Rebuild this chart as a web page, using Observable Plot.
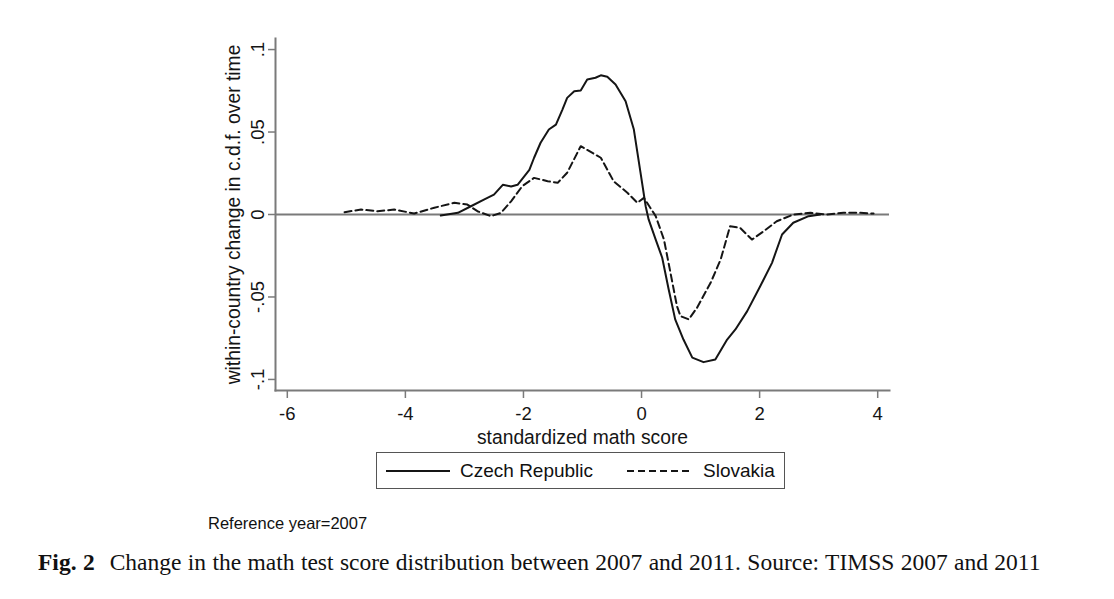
<!DOCTYPE html>
<html>
<head>
<meta charset="utf-8">
<script src="https://cdn.jsdelivr.net/npm/d3@7"></script>
<script src="https://cdn.jsdelivr.net/npm/@observablehq/plot@0.6"></script>
<style>
  html, body { margin: 0; padding: 0; background: #fff; }
  #wrap { position: relative; width: 1114px; height: 599px; overflow: hidden; font-family: "Liberation Sans", Arial, sans-serif; }
  #chart { position: absolute; left: 0; top: 0; }
  #legend { position: absolute; left: 376px; top: 452px; width: 409px; height: 37px; border: 1.5px solid #555; box-sizing: border-box; }
  #legend .item { position: absolute; top: 0; height: 100%; display: flex; align-items: center; font-size: 19px; color: #111; }
  #note { position: absolute; left: 208px; top: 512px; font-size: 16.5px; line-height: 22px; color: #111; }
  #caption { position: absolute; left: 38px; top: 547px; font-family: "Liberation Serif", "Times New Roman", serif; font-size: 23.5px; line-height: 30px; color: #111; white-space: nowrap; word-spacing: 0.5px; }
  #caption b { margin-right: 15px; }
</style>
</head>
<body>
<div id="wrap">
  <div id="chart"></div>
  <div id="legend"></div>
  <div id="note"></div>
  <div id="caption"></div>
</div>
<script>
// ---- data ----
const seriesNames = ["Czech Republic", "Slovakia"];

const czechX = [-3.40,-3.11,-2.89,-2.67,-2.50,-2.35,-2.21,-2.10,-1.99,-1.90,
  -1.82,-1.71,-1.57,-1.45,-1.34,-1.26,-1.14,-1.03,-0.92,-0.78,
  -0.69,-0.58,-0.44,-0.27,-0.13,-0.02,0.07,0.12,0.24,0.35,
  0.46,0.57,0.71,0.86,1.05,1.25,1.45,1.59,1.79,2.01,
  2.21,2.38,2.57,2.83,3.03];
const czechY = [-0.0006,0.001,0.005,0.009,0.012,0.018,0.017,0.018,0.023,0.027,
  0.0344,0.0435,0.0515,0.0545,0.0636,0.0707,0.0747,0.0752,0.0818,0.0829,
  0.0844,0.0835,0.0788,0.0687,0.0515,0.026,0.005,-0.003,-0.0152,-0.0262,
  -0.0455,-0.0636,-0.0758,-0.0868,-0.0895,-0.0879,-0.0758,-0.0697,-0.0586,-0.0435,
  -0.0293,-0.0121,-0.005,-0.001,0];

const slovakX = [-5.03,-4.75,-4.47,-4.19,-3.85,-3.51,-3.17,-2.95,-2.78,-2.55,
  -2.38,-2.21,-2.02,-1.82,-1.59,-1.42,-1.26,-1.03,-0.69,-0.47,
  -0.24,-0.07,0.04,0.24,0.38,0.49,0.60,0.66,0.80,0.94,
  1.17,1.34,1.50,1.67,1.87,2.07,2.29,2.57,2.86,3.14,
  3.42,3.70,3.93];
const slovakY = [0.0014,0.003,0.002,0.003,0.0006,0.0041,0.0071,0.006,0.002,-0.001,
  0.001,0.008,0.0172,0.0222,0.0202,0.0192,0.0253,0.0414,0.0344,0.0200,
  0.0132,0.0071,0.0101,-0.001,-0.0152,-0.0353,-0.0556,-0.0616,-0.0636,-0.0565,
  -0.0414,-0.0273,-0.0071,-0.0081,-0.0152,-0.0101,-0.0041,0,0.001,0,
  0.001,0.001,0.0006];

const xTicks = [-6, -4, -2, 0, 2, 4];
const yTicks = [-0.1, -0.05, 0, 0.05, 0.1];
const yTickLabels = ["-.1", "-.05", "0", ".05", ".1"];
const xDomain = [-6.2, 4.2];
const yDomain = [-0.1067, 0.1067];

const xLabel = "standardized math score";
const yLabel = "within-country change in c.d.f. over time";
const noteText = "Reference year=2007";
const figLabel = "Fig. 2";
const captionText = "Change in the math test score distribution between 2007 and 2011. Source: TIMSS 2007 and 2011";

// ---- build table ----
const rows = [
  ...czechX.map((x, i) => ({series: seriesNames[0], x, y: czechY[i]})),
  ...slovakX.map((x, i) => ({series: seriesNames[1], x, y: slovakY[i]}))
];
const yTickRows = yTicks.map((v, i) => ({v, label: yTickLabels[i]}));

const axisGray = "#7a7a7a";
const ink = "#151515";

const chart = Plot.plot({
  width: 1114,
  height: 450,
  marginTop: 38,
  marginBottom: 60,
  marginLeft: 275,
  marginRight: 225,
  style: {fontFamily: "'Liberation Sans', Arial, sans-serif", fontSize: "18px", color: ink, background: "white"},
  x: {domain: xDomain},
  y: {domain: yDomain},
  marks: [
    Plot.frame({anchor: "left", stroke: axisGray, strokeWidth: 2}),
    Plot.frame({anchor: "bottom", stroke: axisGray, strokeWidth: 2}),
    Plot.axisX({ticks: xTicks, tickSize: 8, tickPadding: 8, stroke: axisGray, strokeWidth: 1.5, fill: ink, label: null, tickFormat: d => String(d), fontSize: 18.5}),
    Plot.axisY({ticks: yTicks, tickSize: 7, stroke: axisGray, strokeWidth: 1.5, label: null, tickFormat: () => ""}),
    Plot.text(yTickRows, {y: "v", text: "label", frameAnchor: "left", textAnchor: "middle", lineAnchor: "middle", rotate: -90, dx: -17, fill: ink, fontSize: 18.5}),
    Plot.text([yLabel], {text: d => d, frameAnchor: "left", textAnchor: "middle", lineAnchor: "middle", rotate: -90, dx: -42, fill: ink, fontSize: 19.3}),
    Plot.text([xLabel], {text: d => d, frameAnchor: "bottom", textAnchor: "middle", lineAnchor: "middle", dy: 47, fill: ink, fontSize: 19.3}),
    Plot.ruleY([0], {stroke: axisGray, strokeWidth: 2}),
    Plot.line(rows.filter(d => d.series === seriesNames[0]), {x: "x", y: "y", stroke: ink, strokeWidth: 2}),
    Plot.line(rows.filter(d => d.series === seriesNames[1]), {x: "x", y: "y", stroke: ink, strokeWidth: 2, strokeDasharray: "7,4"})
  ]
});
document.getElementById("chart").appendChild(chart);

// ---- legend ----
const legend = document.getElementById("legend");
const legendItems = [
  {name: seriesNames[0], dash: null, lineLeft: 9, textLeft: 83},
  {name: seriesNames[1], dash: "7,4", lineLeft: 250, textLeft: 326}
];
legendItems.forEach(it => {
  const sw = document.createElement("div");
  sw.className = "item";
  sw.style.left = it.lineLeft + "px";
  sw.innerHTML = `<svg width="64" height="6"><line x1="0" x2="64" y1="3" y2="3" stroke="${ink}" stroke-width="2" ${it.dash ? `stroke-dasharray="${it.dash}"` : ""}/></svg>`;
  legend.appendChild(sw);
  const tx = document.createElement("div");
  tx.className = "item";
  tx.style.left = it.textLeft + "px";
  tx.textContent = it.name;
  legend.appendChild(tx);
});

document.getElementById("note").textContent = noteText;
const cap = document.getElementById("caption");
const b = document.createElement("b");
b.textContent = figLabel;
cap.appendChild(b);
cap.appendChild(document.createTextNode(captionText));
</script>
</body>
</html>
